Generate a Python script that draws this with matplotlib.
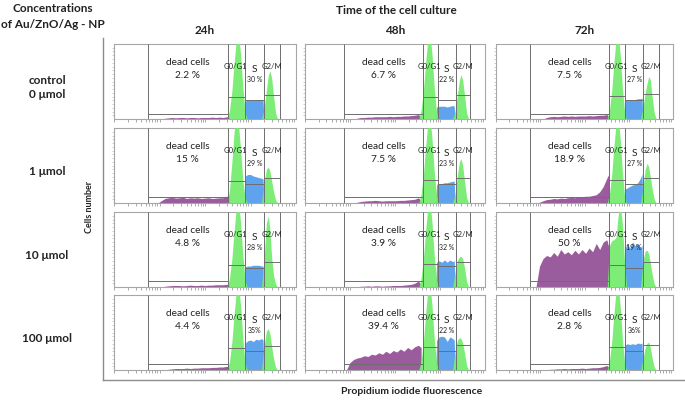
import numpy as np
import matplotlib
matplotlib.use("Agg")
import matplotlib.pyplot as plt
from matplotlib.lines import Line2D

plt.rcParams["font.family"] = ["Lato", "DejaVu Sans"]

# ---------------------------------------------------------------------------
# Datos (filas = concentración, columnas = tiempo)
# ---------------------------------------------------------------------------
times = ["24h", "48h", "72h"]
doses = ["control\n0 \u03bcmol", "1 \u03bcmol", "10 \u03bcmol", "100 \u03bcmol"]

dead_pct = [["2.2 %", "6.7 %", "7.5 %"],
            ["15 %", "7.5 %", "18.9 %"],
            ["4.8 %", "3.9 %", "50 %"],
            ["4.4 %", "39.4 %", "2.8 %"]]
s_pct = [["30 %", "22 %", "27 %"],
         ["29 %", "23 %", "27 %"],
         ["28 %", "32 %", "19 %"],
         ["35%", "22 %", "36%"]]

# niveles de los marcadores (fracción de la altura del panel)
dead_level = [[0.065, 0.065, 0.07], [0.08, 0.08, 0.08], [0.08, 0.08, 0.08], [0.08, 0.08, 0.08]]
g1_level = [[0.29, 0.29, 0.31], [0.29, 0.31, 0.31], [0.29, 0.31, 0.30], [0.29, 0.31, 0.31]]
s_level = [[0.25, 0.25, 0.26], [0.26, 0.26, 0.26], [0.26, 0.28, 0.25], [0.26, 0.25, 0.25]]
g2_level = [[0.32, 0.32, 0.33], [0.33, 0.34, 0.34], [0.33, 0.33, 0.33], [0.32, 0.33, 0.33]]

# histograma sub-G1 (células muertas)
sub_x = [0.22, 0.24, 0.26, 0.28, 0.30, 0.32, 0.34, 0.36, 0.38, 0.40, 0.42,
         0.44, 0.46, 0.48, 0.50, 0.52, 0.54, 0.56, 0.58, 0.60, 0.62, 0.635]
sub_y = [
    [[0, 0, 0, .01, .015, .02, .015, .02, .02, .015, .02, .02, .015, .02, .02, .02, .025, .02, .025, .02, .03, .02],
     [0, 0, 0, .01, .02, .02, .025, .025, .03, .03, .03, .03, .035, .03, .035, .035, .04, .04, .045, .05, .06, .02],
     [0, 0, 0, .02, .03, .035, .03, .035, .04, .035, .04, .035, .04, .04, .04, .045, .04, .045, .05, .05, .06, .02]],
    [[0, 0, .03, .06, .07, .075, .065, .07, .075, .06, .07, .065, .07, .06, .065, .07, .06, .065, .07, .07, .09, .10],
     [0, 0, 0, .01, .02, .025, .03, .03, .035, .03, .025, .03, .03, .03, .03, .035, .035, .04, .045, .05, .07, .03],
     [0, .01, .03, .045, .05, .06, .055, .065, .06, .07, .075, .07, .08, .085, .09, .09, .10, .11, .15, .22, .33, .40]],
    [[0, 0, 0, .01, .015, .02, .02, .02, .015, .02, .025, .02, .02, .025, .02, .025, .025, .03, .03, .03, .035, .02],
     [0, 0, 0, 0, .01, .01, .015, .01, .015, .015, .01, .015, .015, .02, .02, .02, .025, .03, .035, .05, .08, .03],
     [0, .28, .38, .42, .40, .46, .41, .50, .44, .47, .43, .49, .44, .50, .45, .52, .47, .58, .50, .60, .63, .50]],
    [[0, 0, 0, 0, .01, .015, .02, .02, .02, .025, .02, .025, .025, .03, .03, .03, .035, .035, .04, .04, .05, .03],
     [0, .10, .14, .16, .17, .19, .18, .21, .20, .23, .21, .25, .22, .26, .24, .28, .25, .30, .27, .31, .33, .30],
     [0, 0, 0, 0, .01, .01, .015, .015, .02, .015, .02, .02, .02, .025, .02, .025, .03, .03, .035, .045, .06, .03]],
]

# pico G0/G1
g1_x = [0.622, 0.635, 0.648, 0.660, 0.672, 0.684, 0.696, 0.708, 0.720, 0.732]
g1_std = [0, .12, .38, .75, 1.05, 1.15, .85, .42, .10, 0]
g1_y = [
    [g1_std, g1_std, g1_std],
    [[0, .18, .55, .95, 1.15, 1.05, .70, .30, .08, 0], g1_std, g1_std],
    [g1_std, g1_std, [0, .55, .62, .63, .66, .95, 1.1, .85, .35, 0]],
    [g1_std, g1_std, g1_std],
]

# fase S
s_x = [0.716, 0.721, 0.735, 0.75, 0.765, 0.78, 0.795, 0.81, 0.819, 0.824]
s_y = [
    [[0, .24, .25, .25, .26, .25, .26, .25, .25, 0],
     [0, .16, .17, .17, .17, .16, .17, .18, .17, 0],
     [0, .25, .26, .26, .25, .26, .27, .27, .28, 0]],
    [[0, .36, .38, .38, .36, .35, .34, .33, .32, 0],
     [0, .25, .26, .26, .27, .27, .28, .29, .29, 0],
     [0, .18, .20, .22, .24, .25, .27, .33, .39, 0]],
    [[0, .27, .28, .28, .29, .29, .29, .28, .28, 0],
     [0, .33, .35, .33, .36, .33, .36, .34, .35, 0],
     [0, .50, .58, .52, .60, .55, .58, .52, .56, 0]],
    [[0, .36, .39, .40, .38, .41, .40, .42, .40, 0],
     [0, .40, .44, .45, .44, .38, .44, .42, .40, 0],
     [0, .33, .35, .34, .35, .34, .36, .35, .36, 0]],
]

# pico G2/M
g2_x = [0.810, 0.824, 0.837, 0.848, 0.857, 0.866, 0.877, 0.888, 0.899]
g2_y = [
    [[0, .12, .38, .58, .64, .55, .30, .08, 0],
     [0, .10, .33, .52, .59, .52, .30, .08, 0],
     [0, .15, .35, .48, .57, .52, .28, .08, 0]],
    [[0, .25, .45, .48, .42, .30, .15, .04, 0],
     [0, .12, .38, .55, .59, .50, .28, .07, 0],
     [0, .20, .45, .53, .48, .35, .18, .05, 0]],
    [[0, .35, .85, .95, .75, .40, .15, .04, 0],
     [0, .20, .36, .40, .41, .38, .25, .07, 0],
     [0, .35, .48, .49, .44, .32, .16, .04, 0]],
    [[0, .30, .52, .55, .48, .32, .15, .04, 0],
     [0, .25, .40, .43, .42, .36, .22, .06, 0],
     [0, .15, .30, .36, .37, .30, .15, .04, 0]],
]

# ---------------------------------------------------------------------------
# Maquetación (píxeles de la figura 685x401)
# ---------------------------------------------------------------------------
W, H = 685, 401
col_left = [114, 305, 496]
col_width = [182, 180, 177]
row_top = [44, 128, 212, 295]
row_h = 75
shift = [0.0, 0.01, 0.006]
gates = [[0.186, 0.625, 0.718, 0.825, 0.911],
         [0.218, 0.655, 0.737, 0.837, 0.918],
         [0.193, 0.636, 0.731, 0.830, 0.921]]

PURPLE = "#9a5c9c"
GREEN = "#72ec6c"
BLUE = "#5fa3ef"
GATE = "#6e6e6e"
FRAME = "#a6a6a6"
TXT = "#222222"


def fx(x):
    return x / W


def fy(y):
    return 1 - y / H


fig = plt.figure(figsize=(W / 100, H / 100), dpi=100)

xticks = [(d + np.log10(k)) / 4 for d in range(4) for k in range(1, 10)]

for r in range(4):
    for c in range(3):
        ax = fig.add_axes([fx(col_left[c]), fy(row_top[r] + row_h),
                           col_width[c] / W, row_h / H])
        ax.set_xlim(0, 1)
        ax.set_ylim(0, 1)
        for sp in ax.spines.values():
            sp.set_color(FRAME)
            sp.set_linewidth(0.8)
        ax.set_xticks(xticks)
        ax.set_yticks(np.arange(0.05, 1, 0.05))
        ax.tick_params(axis="x", length=2, width=0.5, color="#888888",
                       labelbottom=False)
        ax.tick_params(axis="y", length=1.2, width=0.4, color="#aaaaaa",
                       labelleft=False)

        sx = np.array(sub_x) + shift[c]
        ax.fill_between(sx, sub_y[r][c], color=PURPLE, lw=0, zorder=1)
        ax.fill_between(np.array(s_x) + shift[c], s_y[r][c], color=BLUE,
                        lw=0, zorder=2)
        ax.fill_between(np.array(g1_x) + shift[c], g1_y[r][c], color=GREEN,
                        lw=0, zorder=3, alpha=0.92)
        ax.fill_between(np.array(g2_x) + shift[c], g2_y[r][c], color=GREEN,
                        lw=0, zorder=3, alpha=0.92)

        g = gates[c]
        ax.vlines(g, 0, 1, color=GATE, lw=0.7, zorder=4)
        ax.hlines([dead_level[r][c], g1_level[r][c], s_level[r][c], g2_level[r][c]],
                  [g[0], g[1], g[2], g[3]], [g[1], g[2], g[3], g[4]],
                  color=GATE, lw=0.7, zorder=4)

        ax.text((g[0] + g[1]) / 2, 0.75, "dead cells", ha="center", va="center",
                fontsize=7.3, color=TXT, zorder=5)
        ax.text((g[0] + g[1]) / 2, 0.58, dead_pct[r][c], ha="center", va="center",
                fontsize=7.3, color=TXT, zorder=5)
        ax.text((g[1] + g[2]) / 2 - 0.005, 0.70, "G0/G1", ha="center", va="center",
                fontsize=5.5, color=TXT, zorder=5)
        ax.text((g[2] + g[3]) / 2, 0.66, "S", ha="center", va="center",
                fontsize=7.3, color=TXT, zorder=5)
        ax.text((g[2] + g[3]) / 2, 0.53, s_pct[r][c], ha="center", va="center",
                fontsize=5, color=TXT, zorder=5)
        ax.text((g[3] + g[4]) / 2, 0.70, "G2/M", ha="center", va="center",
                fontsize=5.5, color=TXT, zorder=5)

# cabeceras y etiquetas
fig.text(fx(53), fy(8), "Concentrations", ha="center", va="center",
         fontsize=8.5, fontweight="bold", color=TXT)
fig.text(fx(53), fy(24), "of Au/ZnO/Ag - NP", ha="center", va="center",
         fontsize=8.5, fontweight="bold", color=TXT)
fig.text(fx(396), fy(10), "Time of the cell culture", ha="center", va="center",
         fontsize=8.5, fontweight="bold", color=TXT)
for c, t in enumerate(times):
    fig.text(fx(col_left[c] + col_width[c] / 2), fy(30), t, ha="center",
             va="center", fontsize=8.5, fontweight="bold", color=TXT)
for r, d in enumerate(doses):
    fig.text(fx(47), fy(row_top[r] + row_h / 2 + 6), d, ha="center",
             va="center", fontsize=8.5, fontweight="bold", color=TXT,
             linespacing=1.3)
fig.text(fx(89), fy(207), "Cells number", ha="center", va="center",
         rotation=90, fontsize=6.5, fontweight="bold", color=TXT)
fig.text(fx(412), fy(391), "Propidium iodide fluorescence", ha="center",
         va="center", fontsize=7.5, fontweight="bold", color=TXT)

# marco exterior
fig.add_artist(Line2D([fx(103), fx(103)], [fy(38), fy(380)],
                      color="#8c8c8c", lw=1.0))
fig.add_artist(Line2D([fx(103), fx(684)], [fy(380), fy(380)],
                      color="#8c8c8c", lw=1.0))

fig.savefig("out.png", dpi=100)
